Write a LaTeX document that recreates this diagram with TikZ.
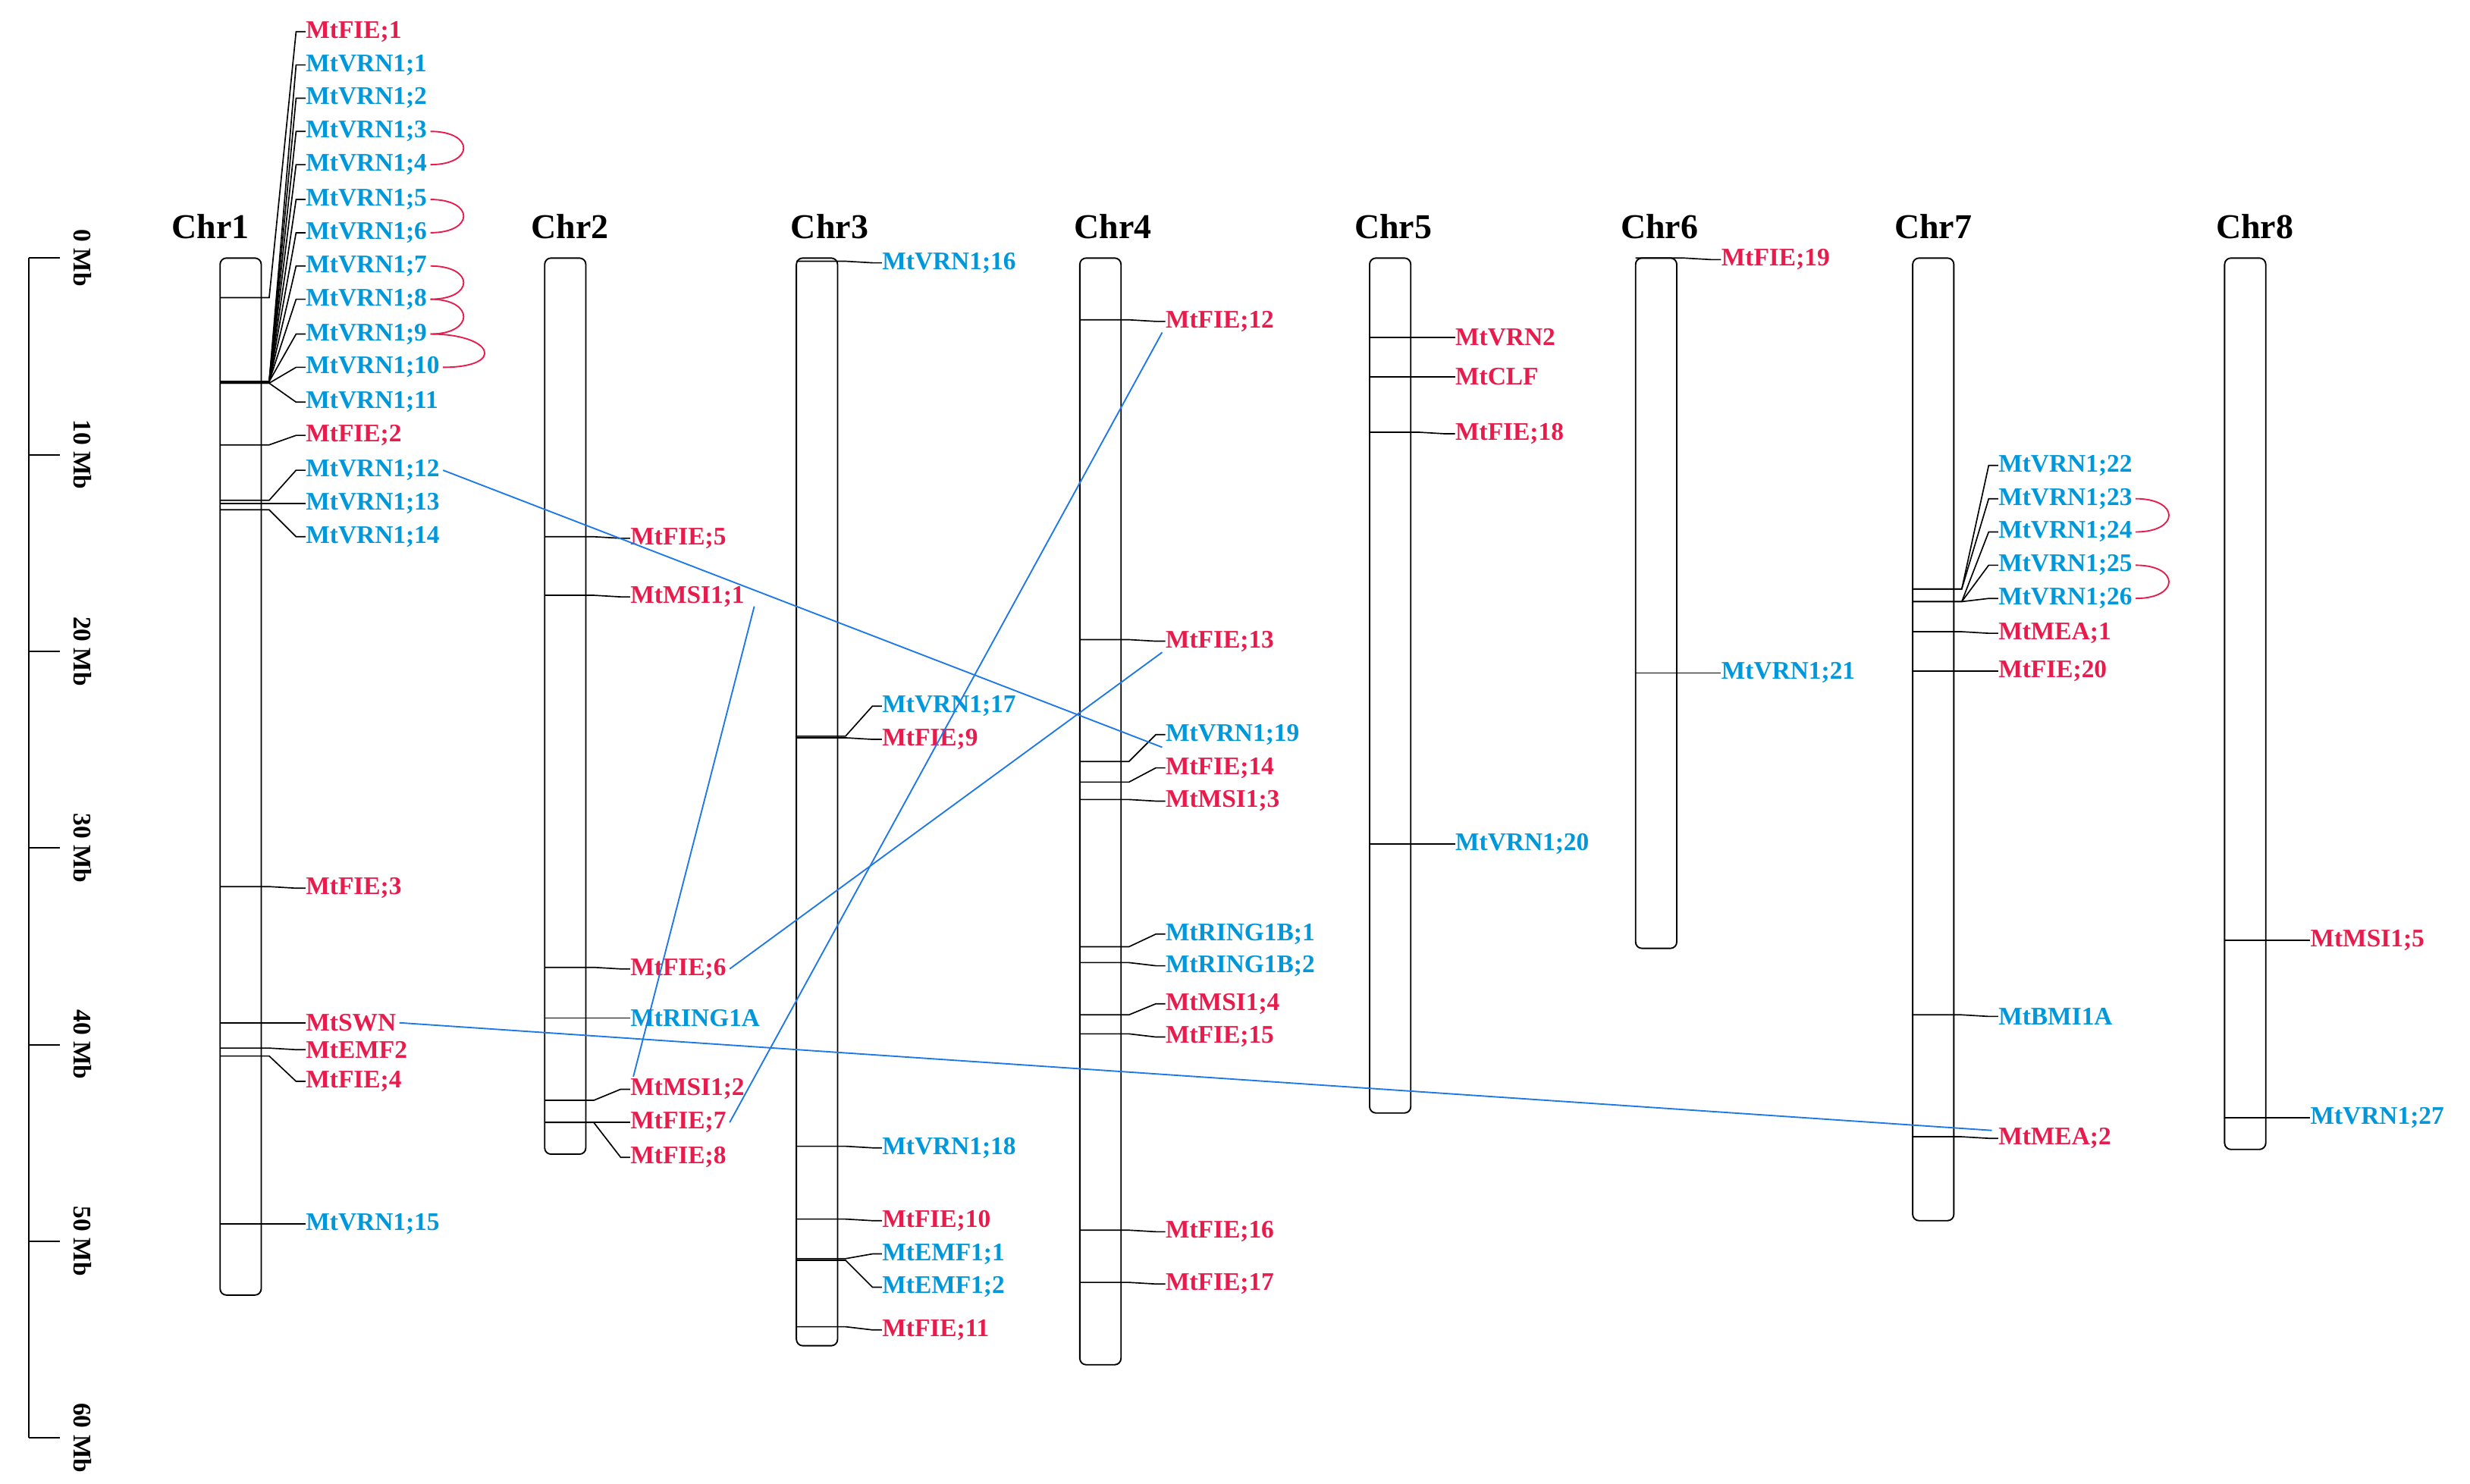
\documentclass[tikz,border=0pt]{standalone}
\usepackage{fontspec}
\setmainfont{Liberation Serif}
\definecolor{gr}{RGB}{232,28,76}
\definecolor{gb}{RGB}{0,152,218}
\definecolor{lb}{RGB}{30,120,230}
\begin{document}
\begin{tikzpicture}[x=1pt,y=-1pt,
 chr/.style={draw,line width=0.9pt,rounded corners=4pt},
 gl/.style={line width=0.8pt},
 lab/.style={font=\fontsize{16}{16}\selectfont\bfseries,inner sep=0pt},
 ct/.style={font=\fontsize{22}{22}\selectfont\bfseries,inner sep=0pt},
 arc/.style={gr,line width=0.9pt},
 dup/.style={lb,line width=0.9pt}]
\useasboundingbox (0,0) rectangle (1560,937);
\newcommand\gn[6]{%
 \draw[gl] (#1,#2) -- (#1+31,#2) -- (#1+48,#3) -- (#1+54,#3);
 \node[lab,text=#6,anchor=west] (#4) at (#1+54,#3) {#5};}
% scale bar
\draw[line width=0.9pt] (18,163) -- (18,908);
\foreach \i in {0,...,6}{
 \pgfmathsetmacro\yy{163+124.2*\i}
 \draw[line width=0.9pt] (18,\yy) -- (38,\yy);
 \pgfmathtruncatemacro\mb{10*\i}
 \node[lab,rotate=-90] (s\i) at (52,\yy) {\mb{} Mb};}
% chromosomes
\draw[chr] (139,163) rectangle (165,818);
\draw[chr] (344,163) rectangle (370,729);
\draw[chr] (503,163) rectangle (529,850);
\draw[chr] (682,163) rectangle (708,862);
\draw[chr] (865,163) rectangle (891,703);
\draw[chr] (1033,163) rectangle (1059,599);
\draw[chr] (1208,163) rectangle (1234,771);
\draw[chr] (1405,163) rectangle (1431,726);
\node[ct] (c1) at (133,143) {Chr1};
\node[ct] (c2) at (360,143) {Chr2};
\node[ct] (c3) at (524,143) {Chr3};
\node[ct] (c4) at (703,143) {Chr4};
\node[ct] (c5) at (880,143) {Chr5};
\node[ct] (c6) at (1048,143) {Chr6};
\node[ct] (c7) at (1221,143) {Chr7};
\node[ct] (c8) at (1424,143) {Chr8};
% Chr1
\gn{139}{188}{20}{f1}{MtFIE;1}{gr}
\gn{139}{241}{41}{v1}{MtVRN1;1}{gb}
\gn{139}{241}{62}{v2}{MtVRN1;2}{gb}
\gn{139}{241}{83}{v3}{MtVRN1;3}{gb}
\gn{139}{241}{104}{v4}{MtVRN1;4}{gb}
\gn{139}{241}{126}{v5}{MtVRN1;5}{gb}
\gn{139}{241}{147}{v6}{MtVRN1;6}{gb}
\gn{139}{241}{168}{v7}{MtVRN1;7}{gb}
\gn{139}{241}{189}{v8}{MtVRN1;8}{gb}
\gn{139}{241}{211}{v9}{MtVRN1;9}{gb}
\gn{139}{242}{232}{v10}{MtVRN1;10}{gb}
\gn{139}{242}{254}{v11}{MtVRN1;11}{gb}
\gn{139}{281}{275}{f2}{MtFIE;2}{gr}
\gn{139}{316}{297}{v12}{MtVRN1;12}{gb}
\gn{139}{318}{318}{v13}{MtVRN1;13}{gb}
\gn{139}{322}{339}{v14}{MtVRN1;14}{gb}
\gn{139}{560}{561}{f3}{MtFIE;3}{gr}
\gn{139}{646}{646}{swn}{MtSWN}{gr}
\gn{139}{662}{663}{emf2}{MtEMF2}{gr}
\gn{139}{667}{683}{f4}{MtFIE;4}{gr}
\gn{139}{773}{773}{v15}{MtVRN1;15}{gb}
% Chr2
\gn{344}{339}{340}{f5}{MtFIE;5}{gr}
\gn{344}{376}{377}{m1}{MtMSI1;1}{gr}
\gn{344}{611}{612}{f6}{MtFIE;6}{gr}
\gn{344}{643}{643}{r1a}{MtRING1A}{gb}
\gn{344}{695}{688}{m2}{MtMSI1;2}{gr}
\gn{344}{709}{709}{f7}{MtFIE;7}{gr}
\gn{344}{709}{731}{f8}{MtFIE;8}{gr}
% Chr3
\gn{503}{165}{166}{v16}{MtVRN1;16}{gb}
\gn{503}{465}{446}{v17}{MtVRN1;17}{gb}
\gn{503}{466}{467}{f9}{MtFIE;9}{gr}
\gn{503}{724}{725}{v18}{MtVRN1;18}{gb}
\gn{503}{770}{771}{f10}{MtFIE;10}{gr}
\gn{503}{795}{792}{e1}{MtEMF1;1}{gb}
\gn{503}{796}{813}{e2}{MtEMF1;2}{gb}
\gn{503}{838}{840}{f11}{MtFIE;11}{gr}
% Chr4
\gn{682}{202}{203}{f12}{MtFIE;12}{gr}
\gn{682}{404}{405}{f13}{MtFIE;13}{gr}
\gn{682}{481}{464}{v19}{MtVRN1;19}{gb}
\gn{682}{494}{485}{f14}{MtFIE;14}{gr}
\gn{682}{505}{506}{m3}{MtMSI1;3}{gr}
\gn{682}{598}{590}{rb1}{MtRING1B;1}{gb}
\gn{682}{608}{610}{rb2}{MtRING1B;2}{gb}
\gn{682}{641}{634}{m4}{MtMSI1;4}{gr}
\gn{682}{653}{655}{f15}{MtFIE;15}{gr}
\gn{682}{777}{778}{f16}{MtFIE;16}{gr}
\gn{682}{810}{811}{f17}{MtFIE;17}{gr}
% Chr5
\gn{865}{213}{213}{vrn2}{MtVRN2}{gr}
\gn{865}{238}{238}{clf}{MtCLF}{gr}
\gn{865}{273}{274}{f18}{MtFIE;18}{gr}
\gn{865}{533}{533}{v20}{MtVRN1;20}{gb}
% Chr6
\gn{1033}{163}{164}{f19}{MtFIE;19}{gr}
\gn{1033}{425}{425}{v21}{MtVRN1;21}{gb}
% Chr7
\gn{1208}{372}{294}{v22}{MtVRN1;22}{gb}
\gn{1208}{372}{315}{v23}{MtVRN1;23}{gb}
\gn{1208}{380}{336}{v24}{MtVRN1;24}{gb}
\gn{1208}{380}{357}{v25}{MtVRN1;25}{gb}
\gn{1208}{380}{378}{v26}{MtVRN1;26}{gb}
\gn{1208}{399}{400}{mea1}{MtMEA;1}{gr}
\gn{1208}{424}{424}{f20}{MtFIE;20}{gr}
\gn{1208}{641}{642}{bmi}{MtBMI1A}{gb}
\gn{1208}{718}{719}{mea2}{MtMEA;2}{gr}
% Chr8
\gn{1405}{594}{594}{m5}{MtMSI1;5}{gr}
\gn{1405}{706}{706}{v27}{MtVRN1;27}{gb}
% tandem arcs
\draw[arc] ([xshift=2pt]v3.east) .. controls +(28,0) and +(28,0) .. ([xshift=2pt]v4.east);
\draw[arc] ([xshift=2pt]v5.east) .. controls +(28,0) and +(28,0) .. ([xshift=2pt]v6.east);
\draw[arc] ([xshift=2pt]v7.east) .. controls +(28,0) and +(28,0) .. ([xshift=2pt]v8.east);
\draw[arc] ([xshift=2pt]v8.east) .. controls +(28,0) and +(28,0) .. ([xshift=2pt]v9.east);
\draw[arc] ([xshift=2pt]v9.east) .. controls +(40,0) and +(40,0) .. ([xshift=2pt]v10.east);
\draw[arc] ([xshift=2pt]v23.east) .. controls +(28,0) and +(28,0) .. ([xshift=2pt]v24.east);
\draw[arc] ([xshift=2pt]v25.east) .. controls +(28,0) and +(28,0) .. ([xshift=2pt]v26.east);
% segmental duplications
\draw[dup] ([xshift=2pt]v12.east) -- ([xshift=-2pt,yshift=-8pt]v19.west);
\draw[dup] ([xshift=2pt]f6.east) -- ([xshift=-2pt,yshift=-7pt]f13.west);
\draw[dup] ([xshift=6pt,yshift=-6pt]m1.east) -- ([xshift=2pt,yshift=8pt]m2.west);
\draw[dup] ([xshift=2pt]f7.east) -- ([xshift=-2pt,yshift=-7pt]f12.west);
\draw[dup] ([xshift=2pt]swn.east) -- ([xshift=-4pt,yshift=5pt]mea2.west);
\end{tikzpicture}
\end{document}
